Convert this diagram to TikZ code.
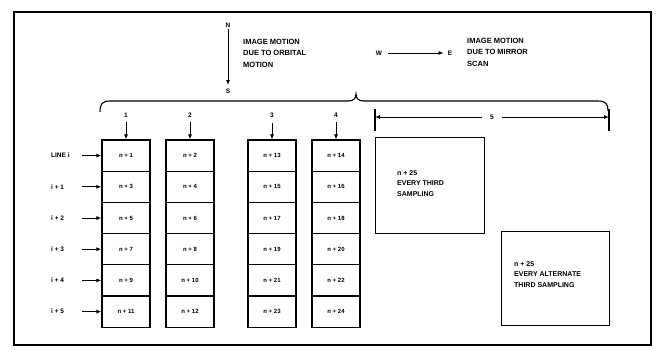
\documentclass[tikz,border=0pt]{standalone}
\usepackage{fontspec}
\setmainfont{Liberation Sans}
\usetikzlibrary{arrows.meta}
\begin{document}
\begin{tikzpicture}[x=1pt,y=-1pt,
  cell/.style={draw,line width=1.1pt,minimum width=48pt,minimum height=31.2pt,inner sep=0pt},
  celltxt/.style={inner sep=0pt,font=\fontsize{6}{7}\selectfont\bfseries},
  lbl/.style={font=\fontsize{7.5}{11.5}\selectfont\bfseries,inner sep=0pt,align=left},
  small/.style={font=\fontsize{6.5}{8}\selectfont\bfseries,inner sep=0pt},
  arr/.style={line width=1pt,-{Latex[length=5pt,width=4pt]}},
  bigbox/.style={draw,line width=1.1pt,inner sep=0pt}]
\useasboundingbox (0,0) rectangle (658,349);
\draw[line width=2pt] (14,12) rectangle (651,345);

% N-S motion
\node[small] (N) at (228,25) {N};
\node[small] (S) at (228,91) {S};
\draw[arr] (N.south) ++(0,2) -- (228,85);
\node[lbl,anchor=north west] (orb) at (243,39) {IMAGE MOTION\\DUE TO ORBITAL\\MOTION};

% W-E motion
\node[small] (W) at (379,53) {W};
\node[small] (E) at (450,53) {E};
\draw[arr] (W.east) ++(6,0) -- ([xshift=-4pt]E.west);
\node[lbl,anchor=north west] (mir) at (467,38) {IMAGE MOTION\\DUE TO MIRROR\\SCAN};

% brace
\draw[line width=1.1pt] (100,112) .. controls (100,104) and (102,101) .. (110,101)
  -- (348,101) .. controls (353,101) and (356,99) .. (356,94)
  .. controls (356,99) and (359,101) .. (364,101) -- (598,101)
  .. controls (606,101) and (608,104) .. (608,111);

% columns
\foreach \c/\x in {1/126,2/190,3/272,4/336}{
  \node[small] (h\c) at (\x,115) {\c};
}
\foreach \r in {1,...,6}{
  \pgfmathsetmacro{\yy}{140+31.2*(\r-0.5)}
  \node[cell] (a\r) at (126,\yy) {};
  \node[cell] (b\r) at (190,\yy) {};
  \node[cell] (c\r) at (272,\yy) {};
  \node[cell] (d\r) at (336,\yy) {};
}
\foreach \r/\p/\q/\s/\t in {1/1/2/13/14,2/3/4/15/16,3/5/6/17/18,4/7/8/19/20,5/9/10/21/22,6/11/12/23/24}{
  \node[celltxt] at (a\r) {n + \p};
  \node[celltxt] at (b\r) {n + \q};
  \node[celltxt] at (c\r) {n + \s};
  \node[celltxt] at (d\r) {n + \t};
}
\draw[arr] (h1.south) ++(0,5) -- (a1.north);
\draw[arr] (h2.south) ++(0,5) -- (b1.north);
\draw[arr] (h3.south) ++(0,5) -- (c1.north);
\draw[arr] (h4.south) ++(0,5) -- (d1.north);

% row labels
\foreach \r/\t in {1/LINE i,2/i + 1,3/i + 2,4/i + 3,5/i + 4,6/i + 5}{
  \node[small,anchor=west] (l\r) at (51,{140+31.2*(\r-0.5)}) {\t};
  \coordinate (s\r) at (82,{140+31.2*(\r-0.5)});
  \draw[arr] (s\r) -- (a\r.west);
}

% column 5
\draw[line width=1.1pt] (375,109) -- (375,131);
\draw[line width=1.1pt] (609,109) -- (609,131);
\node[small] (five) at (492,117) {5};
\draw[arr] (five.west) ++(-8,0) -- (375,117);
\draw[arr] (five.east) ++(8,0) -- (609,117);

\node[bigbox,minimum width=109pt,minimum height=96pt,anchor=north west] (bx1) at (375,137) {};
\node[lbl,anchor=north west,font=\fontsize{7}{10.5}\selectfont\bfseries] (t1) at (397,170) {n + 25\\EVERY THIRD\\SAMPLING};
\node[bigbox,minimum width=108pt,minimum height=94pt,anchor=north west] (bx2) at (501,231) {};
\node[lbl,anchor=north west,font=\fontsize{7}{10.5}\selectfont\bfseries] (t2) at (514,261) {n + 25\\EVERY ALTERNATE\\THIRD SAMPLING};
\end{tikzpicture}
\end{document}
